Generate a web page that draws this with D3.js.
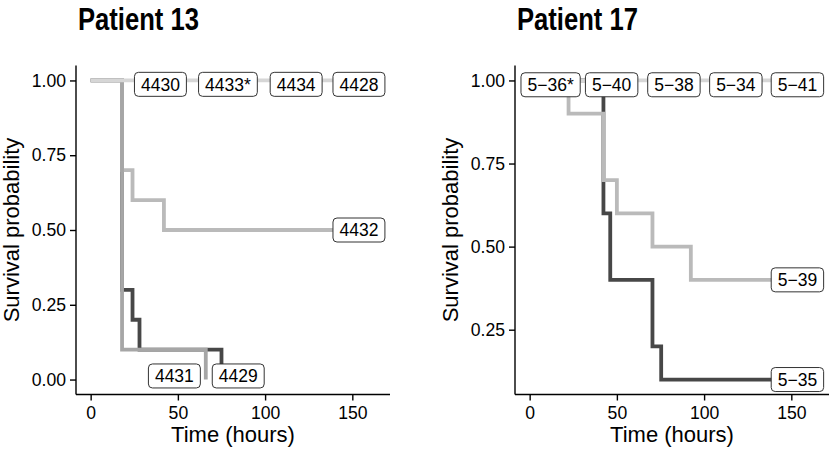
<!DOCTYPE html>
<html>
<head>
<meta charset="utf-8">
<script src="https://cdn.jsdelivr.net/npm/d3@7"></script>
<style>
  html, body { margin: 0; padding: 0; background: #fff; }
  svg { display: block; }
  text { font-family: "Liberation Sans", Arial, Helvetica, sans-serif; fill: #000; }
</style>
</head>
<body>
<svg id="chart" width="831" height="451"></svg>
<script>
// ---------------- DATA ----------------
const panelTitles = ["Patient 13", "Patient 17"];
const xTicks = [0, 50, 100, 150];
const yTicksLeft = [0, 0.25, 0.5, 0.75, 1.0];
const yTicksRight = [0.25, 0.5, 0.75, 1.0];
const xTitle = "Time (hours)";
const yTitle = "Survival probability";

// Patient 13 curves (time, survival) - step functions
const p13_4429_t = [0, 18, 24, 28, 75];
const p13_4429_s = [1, 0.3, 0.2, 0.1, 0];
const p13_4432_t = [0, 18, 24, 42, 150];
const p13_4432_s = [1, 0.7, 0.6, 0.5, 0.5];
const p13_4431_t = [0, 18, 66];
const p13_4431_s = [1, 0.1, 0];
const p13_flat_t = [0, 150];
const p13_flat_s = [1, 1];

// Patient 13 labels
const p13LabelText = ["4430", "4433*", "4434", "4428", "4432", "4431", "4429"];
const p13LabelTime = [40, 78.7, 117.8, 153.8, 153.8, 48, 84.6];
const p13LabelSurv = [0.987, 0.987, 0.987, 0.987, 0.5, 0.012, 0.012];

// Patient 17 curves
const p17_535_t = [0, 42.3, 46.2, 70.4, 75.4, 150];
const p17_535_s = [1, 0.6, 0.4, 0.2, 0.1, 0.1];
const p17_539_t = [0, 22.3, 42.3, 50, 70.4, 92.4, 150];
const p17_539_s = [1, 0.9, 0.7, 0.6, 0.5, 0.4, 0.4];
const p17_flat_t = [0, 150];
const p17_flat_s = [1, 1];

// Patient 17 labels
const p17LabelText = ["5\u221236*", "5\u221240", "5\u221238", "5\u221234", "5\u221241", "5\u221239", "5\u221235"];
const p17LabelTime = [12, 47, 82.7, 118.2, 153.5, 153.5, 153.5];
const p17LabelSurv = [0.987, 0.987, 0.987, 0.987, 0.987, 0.4, 0.1];

// Colours
const cDark = "#474747", cMed = "#a6a6a6", cLight = "#bababa", cVLight = "#d6d6d6";

// ---------------- DRAW ----------------
const svg = d3.select("#chart");

function zip(t, s) { return t.map((d, i) => ({ t: d, s: s[i] })); }

function drawPanel(cfg) {
  const x = d3.scaleLinear().domain([-8.4, 171.6]).range([cfg.left, cfg.left + 314]);
  const y = d3.scaleLinear().domain(cfg.yDomain).range([394.5, 65.5]);
  const g = svg.append("g");

  // title (condensed bold)
  g.append("text").attr("x", cfg.left + 2).attr("y", 30)
    .attr("font-size", 31).attr("font-weight", "bold")
    .attr("textLength", 121).attr("lengthAdjust", "spacingAndGlyphs")
    .text(cfg.title);

  // curves
  const line = d3.line().x(d => x(d.t)).y(d => y(d.s)).curve(d3.curveStepAfter);
  cfg.curves.forEach(c => {
    g.append("path").attr("d", line(zip(c.t, c.s)))
      .attr("fill", "none").attr("stroke", c.color).attr("stroke-width", 3.8)
      .attr("stroke-linejoin", "miter").attr("stroke-linecap", "butt");
  });

  // axes
  const xAxis = d3.axisBottom(x).tickValues(xTicks).tickSize(6).tickPadding(6).tickFormat(d3.format("d"));
  const yAxis = d3.axisLeft(y).tickValues(cfg.yTicks).tickSize(6).tickPadding(4).tickFormat(d3.format(".2f"));
  const gx = g.append("g").attr("transform", "translate(0,394.5)").call(xAxis);
  const gy = g.append("g").attr("transform", `translate(${cfg.left},0)`).call(yAxis);
  [gx, gy].forEach(ax => {
    ax.select(".domain").attr("stroke", "#000").attr("stroke-width", 1.4);
    ax.selectAll(".tick line").attr("stroke", "#000").attr("stroke-width", 1.4);
    ax.selectAll(".tick text").attr("font-size", 17.6).attr("fill", "#000")
      .style("font-family", '"Liberation Sans", Arial, sans-serif');
  });
  gx.select(".domain").attr("d", `M${cfg.left},0H${cfg.left + 314}`);
  gy.select(".domain").attr("d", `M0,65.5V394.5`);

  // axis titles
  g.append("text").attr("x", cfg.left + 157).attr("y", 442).attr("text-anchor", "middle")
    .attr("font-size", 22).text(xTitle);
  g.append("text").attr("transform", `translate(${cfg.left - 57},230) rotate(-90)`)
    .attr("text-anchor", "middle").attr("font-size", 22).text(yTitle);

  // labels
  const lg = g.append("g");
  cfg.labels.text.forEach((txt, i) => {
    const cx = x(cfg.labels.time[i]), cy = y(cfg.labels.surv[i]);
    const lab = lg.append("g");
    const rect = lab.append("rect");
    const t = lab.append("text").attr("x", cx).attr("y", cy).attr("text-anchor", "middle")
      .attr("dy", "0.36em").attr("font-size", 17.5).text(txt);
    const w = t.node().getComputedTextLength() + 13;
    rect.attr("x", cx - w / 2).attr("y", cy - 12).attr("width", w).attr("height", 24)
      .attr("rx", 4).attr("ry", 4).attr("fill", "#fff").attr("stroke", "#333").attr("stroke-width", 1);
  });
}

drawPanel({
  left: 76, title: panelTitles[0], yDomain: [-0.05, 1.05], yTicks: yTicksLeft,
  curves: [
    { t: p13_4429_t, s: p13_4429_s, color: cDark },
    { t: p13_4432_t, s: p13_4432_s, color: cLight },
    { t: p13_4431_t, s: p13_4431_s, color: cMed },
    { t: p13_flat_t, s: p13_flat_s, color: cVLight }
  ],
  labels: { text: p13LabelText, time: p13LabelTime, surv: p13LabelSurv }
});

drawPanel({
  left: 515, title: panelTitles[1], yDomain: [0.055, 1.045], yTicks: yTicksRight,
  curves: [
    { t: p17_535_t, s: p17_535_s, color: cDark },
    { t: p17_539_t, s: p17_539_s, color: cLight },
    { t: p17_flat_t, s: p17_flat_s, color: cVLight }
  ],
  labels: { text: p17LabelText, time: p17LabelTime, surv: p17LabelSurv }
});
</script>
</body>
</html>
